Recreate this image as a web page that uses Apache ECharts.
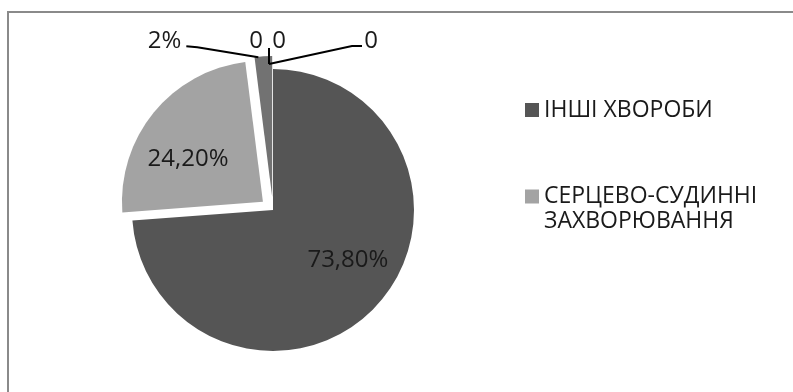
<!DOCTYPE html>
<html>
<head>
<meta charset="utf-8">
<script src="https://cdn.jsdelivr.net/npm/echarts@6/dist/echarts.min.js"></script>
<style>
  html, body { margin: 0; padding: 0; background: #ffffff; }
  #chart { width: 793px; height: 392px; }
</style>
</head>
<body>
<div id="chart"></div>
<script>
// Structure of mortality causes (share, %)
const categories = ['ІНШІ ХВОРОБИ', 'СЕРЦЕВО-СУДИННІ ЗАХВОРЮВАННЯ', 'Категорія 3', 'Категорія 4', 'Категорія 5', 'Категорія 6'];
const shares = [73.8, 24.2, 2, 0, 0, 0];
const legendItems = ['ІНШІ ХВОРОБИ', 'СЕРЦЕВО-СУДИННІ ЗАХВОРЮВАННЯ'];
const legendText = ['ІНШІ ХВОРОБИ', '\nСЕРЦЕВО-СУДИННІ\nЗАХВОРЮВАННЯ'];
const sliceColors = ['#555555', '#a3a3a3', '#727272', '#4a4a4a', '#8c8c8c', '#c0c0c0'];
const explodedSlices = [false, true, true, false, false, false];

const FONT = 'Open Sans';
const TEXT_COLOR = '#1a1a1a';
const CX = 273, CY = 210, R = 141, EXPLODE = 13;

function fmtShare(v) {
  if (v === 0) return '0';
  if (Number.isInteger(v)) return v + '%';
  return v.toFixed(2).replace('.', ',') + '%';
}

// Point on a slice's bisector (clockwise from 12 o'clock), derived from the data
const total = shares.reduce((a, b) => a + b, 0);
function midAngle(i) {
  let before = 0;
  for (let k = 0; k < i; k++) before += shares[k];
  return ((before + shares[i] / 2) / total) * Math.PI * 2;
}
function edgePoint(i, extra) {
  const a = midAngle(i);
  const rr = R + extra;
  return [CX + rr * Math.sin(a), CY - rr * Math.cos(a)];
}

// Callout labels for the small slices: text offset and leader line, relative to the slice edge
const callouts = [
  { index: 2, extra: EXPLODE, text: [-82, -15], align: 'right', line: [[-5, 1], [-66, -9], [-77, -10]] },
  { index: 3, extra: -4, text: [-17, -32], align: 'center', line: null },
  { index: 4, extra: -4, text: [6, -32], align: 'center', line: [[-4, -9], [-4, -25]] },
  { index: 5, extra: -4, text: [98, -32], align: 'center', line: [[-4, -9], [79, -27], [89, -27]] }
];

const calloutGraphics = [];
callouts.forEach(c => {
  const p = edgePoint(c.index, c.extra);
  if (c.line) {
    calloutGraphics.push({
      type: 'polyline',
      silent: true,
      z: 20,
      shape: { points: c.line.map(d => [p[0] + d[0], p[1] + d[1]]) },
      style: { stroke: '#000000', lineWidth: 2, fill: null }
    });
  }
  calloutGraphics.push({
    type: 'text',
    silent: true,
    z: 20,
    x: p[0] + c.text[0],
    y: p[1] + c.text[1],
    style: {
      text: fmtShare(shares[c.index]),
      font: '24px "' + FONT + '"',
      fill: TEXT_COLOR,
      align: c.align,
      verticalAlign: 'middle'
    }
  });
});

const pieData = shares.map((v, i) => ({
  name: categories[i],
  value: v,
  selected: explodedSlices[i],
  itemStyle: { color: sliceColors[i] },
  select: { itemStyle: { color: sliceColors[i] } },
  label: { show: i < 2 },
  labelLine: { show: false }
}));

const chart = echarts.init(document.getElementById('chart'), null, { renderer: 'canvas' });

chart.setOption({
  animation: false,
  backgroundColor: '#ffffff',
  graphic: [{
    type: 'rect',
    z: -10,
    silent: true,
    shape: { x: 8, y: 12, width: 820, height: 420 },
    style: { fill: 'none', stroke: '#8a8a8a', lineWidth: 2 }
  }].concat(calloutGraphics),
  legend: {
    orient: 'vertical',
    left: 525,
    top: 97.5,
    padding: 0,
    itemGap: 36.5,
    itemWidth: 14,
    itemHeight: 14,
    icon: 'rect',
    selectedMode: false,
    data: legendItems,
    formatter: name => legendText[legendItems.indexOf(name)],
    textStyle: { fontFamily: FONT, fontSize: 23, color: TEXT_COLOR, lineHeight: 25 }
  },
  series: [{
    type: 'pie',
    center: [CX, CY],
    radius: R,
    startAngle: 90,
    clockwise: true,
    selectedMode: 'multiple',
    selectedOffset: EXPLODE,
    avoidLabelOverlap: false,
    itemStyle: { borderWidth: 0 },
    emphasis: { disabled: true },
    label: {
      show: true,
      position: 'inside',
      fontFamily: FONT,
      fontSize: 24,
      color: TEXT_COLOR,
      formatter: p => fmtShare(p.value)
    },
    labelLayout: function (params) {
      if (params.dataIndex === 0) return { dx: 21, dy: 0 };
      if (params.dataIndex === 1) return { dx: -18, dy: 4 };
      return {};
    },
    data: pieData
  }]
});
</script>
</body>
</html>
